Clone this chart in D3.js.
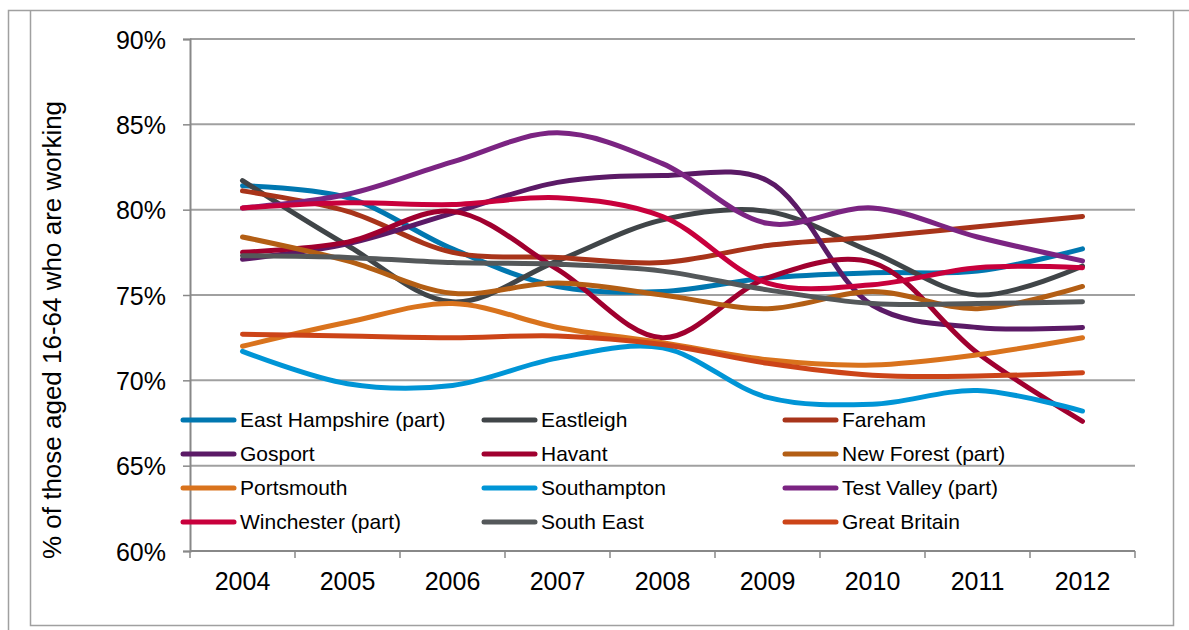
<!DOCTYPE html>
<head>
  <meta charset="utf-8">
  <script src="https://cdn.jsdelivr.net/npm/d3@7"></script>
  <style>
    body { margin:0; background:#fff; }
    text { font-family: "Liberation Sans", Arial, sans-serif; fill:#000; }
  </style>
</head>
<body>
<script>
  var width = 1189, height = 630;

  var years = ["2004","2005","2006","2007","2008","2009","2010","2011","2012"];
  var yTicks = [60, 65, 70, 75, 80, 85, 90];
  var yTitle = "% of those aged 16-64 who are working";

  // one array per area (%)
  var eastHampshire = [81.4, 80.7, 77.7, 75.5, 75.2, 76.0, 76.3, 76.4, 77.7];
  var eastleigh     = [81.7, 77.9, 74.6, 77.0, 79.4, 79.9, 77.5, 75.0, 76.7];
  var fareham       = [81.1, 79.9, 77.5, 77.2, 76.9, 77.9, 78.4, 79.0, 79.6];
  var gosport       = [77.1, 78.0, 79.8, 81.6, 82.0, 81.7, 74.4, 73.1, 73.1];
  var havant        = [77.5, 78.1, 79.9, 76.5, 72.5, 76.0, 76.9, 71.6, 67.6];
  var newForest     = [78.4, 77.0, 75.1, 75.7, 75.0, 74.2, 75.2, 74.2, 75.5];
  var portsmouth    = [72.0, 73.4, 74.5, 73.1, 72.2, 71.2, 70.9, 71.5, 72.5];
  var southampton   = [71.7, 69.8, 69.7, 71.3, 71.9, 69.0, 68.6, 69.4, 68.2];
  var testValley    = [80.1, 80.9, 82.8, 84.5, 82.7, 79.2, 80.1, 78.4, 77.0];
  var winchester    = [80.1, 80.4, 80.3, 80.7, 79.6, 75.7, 75.6, 76.6, 76.6];
  var southEast     = [77.3, 77.2, 76.9, 76.8, 76.4, 75.3, 74.5, 74.5, 74.6];
  var greatBritain  = [72.7, 72.6, 72.5, 72.6, 72.1, 71.0, 70.3, 70.25, 70.45];

  var seriesNames = ["East Hampshire (part)","Eastleigh","Fareham","Gosport","Havant",
    "New Forest (part)","Portsmouth","Southampton","Test Valley (part)",
    "Winchester (part)","South East","Great Britain"];
  var seriesValues = [eastHampshire, eastleigh, fareham, gosport, havant, newForest,
    portsmouth, southampton, testValley, winchester, southEast, greatBritain];
  var seriesColors = ["#0077B0","#404548","#A8341A","#5B1A66","#A0002F","#B35E14",
    "#D9731D","#0095D6","#7B2482","#C8003C","#54585A","#CC4418"];

  var svg = d3.select("body").append("svg")
    .attr("width", width).attr("height", height);

  // frame
  svg.append("path")
    .attr("d", "M8.5,630 V10.5 H1189")
    .attr("fill", "none").attr("stroke", "#a0a0a0").attr("stroke-width", 1.5);
  svg.append("path")
    .attr("d", "M30.5,10.5 V625.5 H1173.5 V10.5")
    .attr("fill", "none").attr("stroke", "#a0a0a0").attr("stroke-width", 1.5);

  var plotLeft = 190, plotRight = 1135, plotTop = 39, plotBottom = 551;

  var x = d3.scaleBand().domain(years).range([plotLeft, plotRight]);
  var y = d3.scaleLinear().domain([60, 90]).range([plotBottom, plotTop]);

  // gridlines
  svg.append("g").selectAll("line")
    .data(yTicks.slice(1))
    .enter().append("line")
    .attr("x1", plotLeft).attr("x2", plotRight)
    .attr("y1", function(d){ return y(d); }).attr("y2", function(d){ return y(d); })
    .attr("stroke", "#a0a0a0").attr("stroke-width", 2);

  // y axis
  var yAxis = svg.append("g")
    .attr("transform", "translate(" + plotLeft + ",0)")
    .call(d3.axisLeft(y).tickValues(yTicks).tickSize(7).tickPadding(17)
      .tickFormat(function(d){ return d + "%"; }));
  yAxis.select(".domain").attr("stroke", "#888").attr("stroke-width", 2);
  yAxis.selectAll(".tick line").attr("stroke", "#888").attr("stroke-width", 1.5);
  yAxis.selectAll("text").style("font-size", "25px").attr("dy", "0.36em");

  // x axis
  var xAxis = svg.append("g")
    .attr("transform", "translate(0," + plotBottom + ")")
    .call(d3.axisBottom(x).tickSize(0).tickPadding(21));
  xAxis.select(".domain").remove();
  xAxis.append("line").attr("x1", plotLeft).attr("x2", plotRight)
    .attr("stroke", "#888").attr("stroke-width", 2);
  xAxis.selectAll(".sep")
    .data(years.concat(["end"]))
    .enter().append("line")
    .attr("x1", function(d, i){ return i < years.length ? x(d) : plotRight; })
    .attr("x2", function(d, i){ return i < years.length ? x(d) : plotRight; })
    .attr("y1", 0).attr("y2", 7)
    .attr("stroke", "#888").attr("stroke-width", 1.5);
  xAxis.selectAll(".tick text").style("font-size", "25px");

  // y title
  svg.append("text")
    .attr("transform", "translate(61,330) rotate(-90)")
    .attr("text-anchor", "middle")
    .style("font-size", "26px")
    .text(yTitle);

  // lines
  var line = d3.line()
    .x(function(d, i){ return x(years[i]) + x.bandwidth() / 2; })
    .y(function(d){ return y(d); })
    .curve(d3.curveCatmullRom.alpha(0.5));

  svg.append("g").selectAll("path")
    .data(seriesValues)
    .enter().append("path")
    .attr("d", line)
    .attr("fill", "none")
    .attr("stroke", function(d, i){ return seriesColors[i]; })
    .attr("stroke-width", 5)
    .attr("stroke-linecap", "round")
    .attr("stroke-linejoin", "round");

  // legend
  var colX = [181, 482, 783], rowY = [420, 454, 488, 522];
  var leg = svg.append("g").selectAll("g")
    .data(seriesNames)
    .enter().append("g")
    .attr("transform", function(d, i){
      return "translate(" + colX[i % 3] + "," + rowY[Math.floor(i / 3)] + ")";
    });
  leg.append("line")
    .attr("x1", 2).attr("x2", 53)
    .attr("stroke", function(d, i){ return seriesColors[i]; })
    .attr("stroke-width", 5).attr("stroke-linecap", "round");
  leg.append("text")
    .attr("x", 59).attr("dy", "0.35em")
    .style("font-size", "21px")
    .text(function(d){ return d; });
</script>
</body>
